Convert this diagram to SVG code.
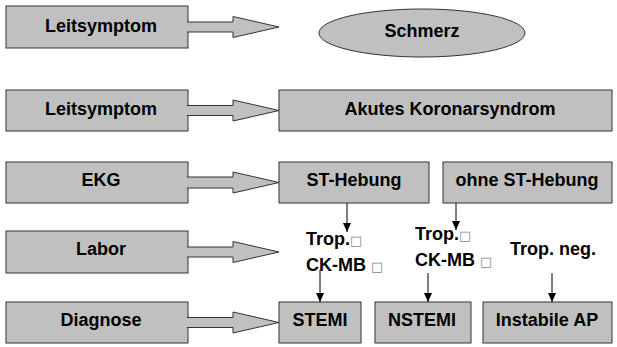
<svg xmlns="http://www.w3.org/2000/svg" width="617" height="347" viewBox="0 0 617 347">
<style>
.box{fill:#c0c0c0;stroke:#333;stroke-width:1}
.arr{fill:#c0c0c0;stroke:#333;stroke-width:1}
.t{font-family:"Liberation Sans",Arial,sans-serif;font-weight:bold;font-size:18px;fill:#000;text-anchor:middle}
.tl{font-family:"Liberation Sans",Arial,sans-serif;font-weight:bold;font-size:18px;fill:#000}
.q{font-family:"DejaVu Sans",sans-serif;font-weight:normal;font-size:13px;fill:#888}
.ln{stroke:#000;stroke-width:1;fill:none}
</style>
<defs>
<marker id="ah" markerWidth="9" markerHeight="8" refX="9" refY="4" orient="auto" markerUnits="userSpaceOnUse" viewBox="0 0 9 8">
<path d="M0,0 L9,4 L0,8 Z" fill="#000"/>
</marker>
</defs>
<rect width="617" height="347" fill="#fff"/>

<g id="row1-label"><rect class="box" x="6" y="6" width="182" height="42"/><text class="t" x="101" y="32">Leitsymptom</text></g>
<g id="row2-label"><rect class="box" x="6" y="90" width="182" height="41"/><text class="t" x="101" y="115">Leitsymptom</text></g>
<g id="row3-label"><rect class="box" x="6" y="162" width="182" height="41"/><text class="t" x="101" y="186">EKG</text></g>
<g id="row4-label"><rect class="box" x="6" y="231" width="182" height="42"/><text class="t" x="101" y="255">Labor</text></g>
<g id="row5-label"><rect class="box" x="6" y="302" width="182" height="41"/><text class="t" x="101" y="326">Diagnose</text></g>

<g id="schmerz"><ellipse class="box" cx="422" cy="33" rx="103" ry="24"/><text class="t" x="422" y="37">Schmerz</text></g>
<g id="acs"><rect class="box" x="279" y="90" width="333" height="41"/><text class="t" x="450" y="115">Akutes Koronarsyndrom</text></g>
<g id="st-hebung"><rect class="box" x="279" y="162" width="150" height="41"/><text class="t" x="354" y="186">ST-Hebung</text></g>
<g id="ohne-st"><rect class="box" x="443" y="162" width="169" height="41"/><text class="t" x="527" y="186">ohne ST-Hebung</text></g>
<g id="lab1"><text class="tl" x="306" y="245">Trop.<tspan class="q">□</tspan></text><text class="tl" x="306" y="271">CK-MB <tspan class="q">□</tspan></text></g>
<g id="lab2"><text class="tl" x="415" y="240">Trop.<tspan class="q">□</tspan></text><text class="tl" x="415" y="266">CK-MB <tspan class="q">□</tspan></text></g>
<g id="lab3"><text class="tl" x="510" y="255">Trop. neg.</text></g>
<g id="stemi"><rect class="box" x="279" y="302" width="82" height="41"/><text class="t" x="320" y="326">STEMI</text></g>
<g id="nstemi"><rect class="box" x="375" y="302" width="96" height="41"/><text class="t" x="422" y="326">NSTEMI</text></g>
<g id="iap"><rect class="box" x="483" y="302" width="129" height="41"/><text class="t" x="547" y="326">Instabile AP</text></g>

<g id="connectors">
<path class="arr" d="M187,22 L233,22 L233,16.5 L279,27 L233,37.5 L233,32 L187,32"/>
<path class="arr" d="M187,105.5 L233,105.5 L233,100 L279,110.5 L233,121 L233,115.5 L187,115.5"/>
<path class="arr" d="M187,177 L233,177 L233,172 L279,182.5 L233,193 L233,188 L187,188"/>
<path class="arr" d="M187,247 L233,247 L233,241.5 L279,252 L233,262.5 L233,257 L187,257"/>
<path class="arr" d="M187,317.5 L233,317.5 L233,312 L279,322.5 L233,333 L233,327.5 L187,327.5"/>
<line class="ln" x1="347" y1="203" x2="347" y2="232" marker-end="url(#ah)"/>
<line class="ln" x1="456" y1="203" x2="456" y2="230" marker-end="url(#ah)"/>
<line class="ln" x1="320" y1="270" x2="320" y2="302" marker-end="url(#ah)"/>
<line class="ln" x1="428" y1="273" x2="428" y2="302" marker-end="url(#ah)"/>
<line class="ln" x1="552" y1="273" x2="552" y2="302" marker-end="url(#ah)"/>
</g>
</svg>
